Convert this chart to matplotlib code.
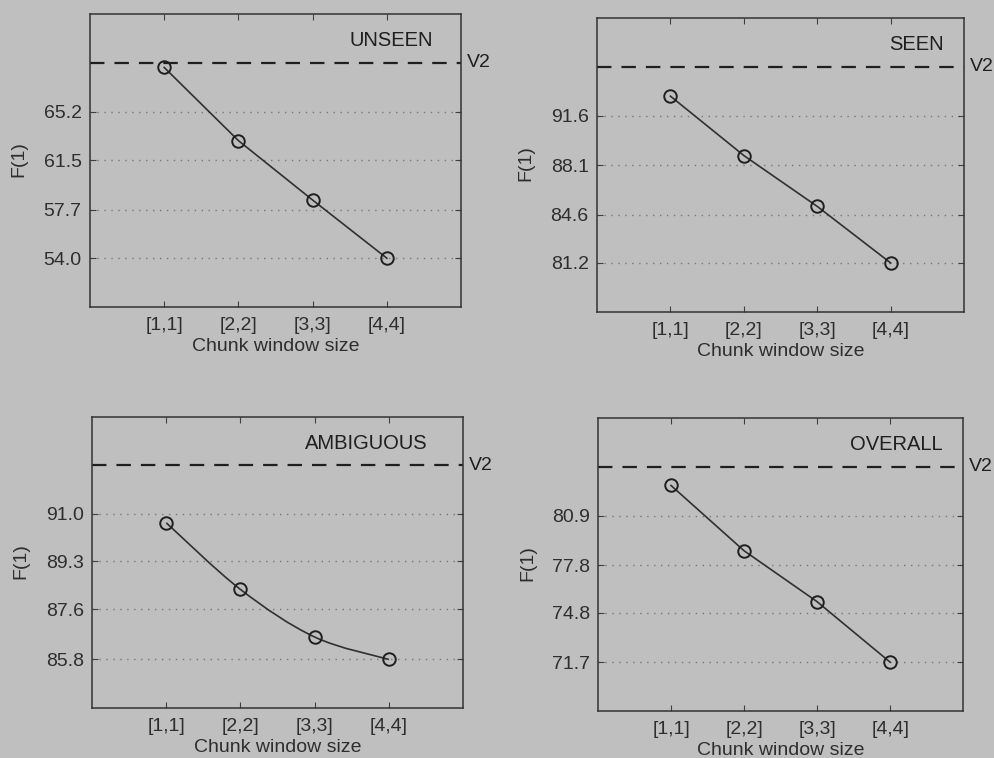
import numpy as np
import matplotlib
matplotlib.use('Agg')
import matplotlib.pyplot as plt
from matplotlib.path import Path
from matplotlib.patches import PathPatch

plt.rcParams['font.family'] = ['Liberation Sans', 'DejaVu Sans']

bg = '#bfbfbf'
ink = '#1f1f1f'
soft = '#2e2e2e'

windows = ['[1,1]', '[2,2]', '[3,3]', '[4,4]']

# F(1) per chunk window size, one panel per subset
unseen = [68.6, 63.0, 58.45, 54.0]
seen = [93.0, 88.8, 85.2, 81.2]
ambiguous = [90.68, 88.3, 86.6, 85.8]
overall = [82.8, 78.7, 75.5, 71.7]

# V2 baseline
v2_unseen = 68.96
v2_seen = 95.07
v2_ambiguous = 92.73
v2_overall = 83.97

ticks_unseen = [54.0, 57.7, 61.5, 65.2]
ticks_seen = [81.2, 84.6, 88.1, 91.6]
ticks_ambiguous = [85.8, 87.6, 89.3, 91.0]
ticks_overall = [71.7, 74.8, 77.8, 80.9]

# name, values, v2, ticks, axes rect, label x, smooth curve
panels = [
    ('UNSEEN', unseen, v2_unseen, ticks_unseen, [0.0905, 0.595, 0.3729, 0.3865], 0.925, False),
    ('SEEN', seen, v2_seen, ticks_seen, [0.600, 0.5884, 0.369, 0.388], 0.945, False),
    ('AMBIGUOUS', ambiguous, v2_ambiguous, ticks_ambiguous, [0.0925, 0.066, 0.373, 0.384], 0.905, True),
    ('OVERALL', overall, v2_overall, ticks_overall, [0.601, 0.062, 0.367, 0.3865], 0.945, False),
]


def smooth_path(xs, ys):
    # Catmull-Rom segments written as cubic Bezier curves
    pts = np.column_stack([xs, ys]).astype(float)
    ext = np.vstack([pts[0], pts, pts[-1]])
    verts = [pts[0]]
    codes = [Path.MOVETO]
    for i in range(len(pts) - 1):
        p0, p1, p2, p3 = ext[i], ext[i + 1], ext[i + 2], ext[i + 3]
        verts += [p1 + (p2 - p0) / 6.0, p2 - (p3 - p1) / 6.0, p2]
        codes += [Path.CURVE4] * 3
    return Path(verts, codes)


fig = plt.figure(figsize=(9.95, 7.58), dpi=100)
fig.patch.set_facecolor(bg)

x = np.arange(1, len(windows) + 1)
for name, vals, v2, ticks, rect, tx, curved in panels:
    ax = fig.add_axes(rect)
    ax.set_facecolor(bg)
    step = (ticks[-1] - ticks[0]) / 3.0
    ax.set_xlim(0, 5)
    ax.set_ylim(ticks[0] - step, v2 + step)

    for t in ticks:
        ax.axhline(t, color='#777777', lw=1.0, ls=(0, (1, 4)), zorder=1)
    ax.axhline(v2, color=ink, lw=1.6, ls=(0, (6.5, 4.5)), zorder=2)
    ax.text(5.08, v2, 'V2', ha='left', va='center', fontsize=14, color=ink,
            clip_on=False)

    if curved:
        ax.add_patch(PathPatch(smooth_path(x, vals), fill=False, edgecolor='#303030',
                               lw=1.2, zorder=3))
    else:
        ax.plot(x, vals, color='#303030', lw=1.2, zorder=3)
    ax.plot(x, vals, ls='none', marker='o', ms=9, mfc='none', mec=ink, mew=1.4,
            zorder=4)

    ax.text(tx, 0.91, name, transform=ax.transAxes, ha='right', va='center',
            fontsize=14.5, color=ink)

    ax.set_xticks(x)
    ax.set_xticklabels(windows)
    ax.set_yticks(ticks)
    ax.set_yticklabels(['%.1f' % t for t in ticks])
    ax.tick_params(direction='in', length=4, width=0.8, color='#404040',
                   labelsize=14, labelcolor=soft, top=True, right=True)
    ax.tick_params(axis='x', pad=7)
    ax.tick_params(axis='y', pad=6)
    for sp in ax.spines.values():
        sp.set_color('#333333')
        sp.set_linewidth(1.1)

    ax.set_xlabel('Chunk window size', fontsize=14, color=soft)
    ax.set_ylabel('F(1)', fontsize=14, color=soft)
    ax.xaxis.set_label_coords(0.5, -0.105)
    ax.yaxis.set_label_coords(-0.17, 0.505)

fig.savefig('out.png', dpi=100, facecolor=bg)
